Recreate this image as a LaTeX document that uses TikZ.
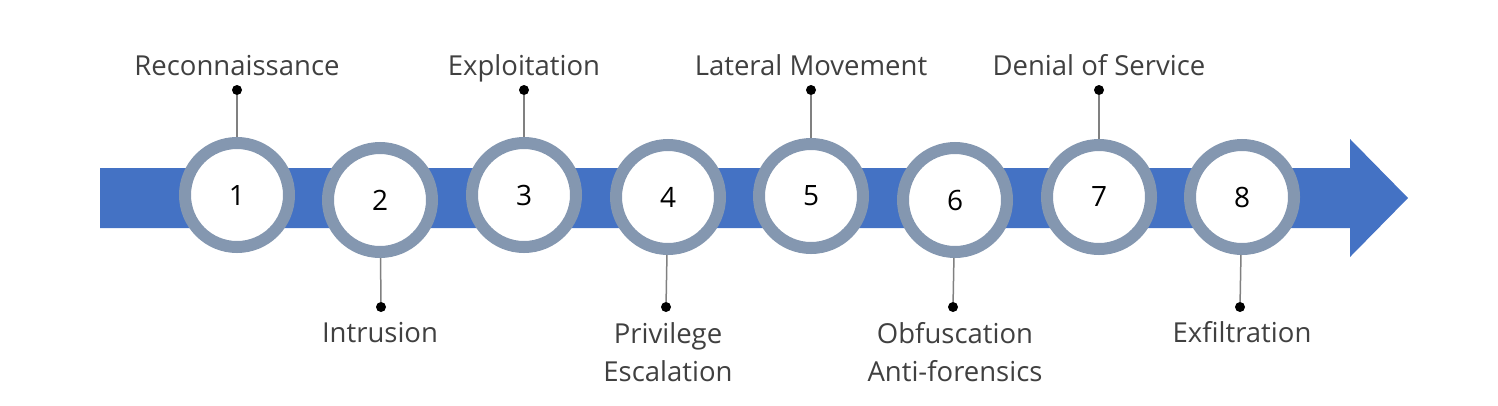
\documentclass[tikz,border=0pt]{standalone}
\usepackage{fontspec}
\setmainfont{Open Sans}
\usepackage{tikz}
\definecolor{barBlue}{RGB}{68, 114, 196}
\definecolor{ringGray}{RGB}{132, 151, 176}
\definecolor{stemGray}{RGB}{128, 128, 128}
\definecolor{textGray}{RGB}{64, 64, 64}
\tikzset{
  stage/.style={circle, draw=ringGray, line width=12pt, fill=white,
    minimum size=104pt, inner sep=0pt, font=\fontsize{28}{32}\selectfont},
  pin/.style={circle, fill=black, inner sep=0pt, minimum size=10pt},
  tag/.style={text=textGray, align=center, font=\fontsize{27.5}{38}\selectfont},
  oneline/.style={tag, text height=20pt, text depth=6pt}
}

\begin{document}
\begin{tikzpicture}[x=1pt, y=-1pt]
        \useasboundingbox (0,0) rectangle (1498,405);
        \fill[barBlue] (100,168) -- (1350,168) -- (1350,139) -- (1408,198)
          -- (1350,257) -- (1350,228) -- (100,228) -- cycle;
        % stages along the arrow
        \node[stage] (s1) at (237,195) {1};
        \node[stage] (s2) at (380,200) {2};
        \node[stage] (s3) at (524,195) {3};
        \node[stage] (s4) at (668,197) {4};
        \node[stage] (s5) at (811,196) {5};
        \node[stage] (s6) at (955,200) {6};
        \node[stage] (s7) at (1099,197) {7};
        \node[stage] (s8) at (1242,197) {8};
        % pins
        \node[pin] (p1) at (237,90) {};
        \node[pin] (p2) at (381,307) {};
        \node[pin] (p3) at (524,90) {};
        \node[pin] (p4) at (666,307) {};
        \node[pin] (p5) at (811,90) {};
        \node[pin] (p6) at (953,307) {};
        \node[pin] (p7) at (1099,90) {};
        \node[pin] (p8) at (1240,307) {};
        \draw[stemGray, line width=1.5pt] (p1) -- (s1);
        \draw[stemGray, line width=1.5pt] (p2) -- (s2);
        \draw[stemGray, line width=1.5pt] (p3) -- (s3);
        \draw[stemGray, line width=1.5pt] (p4) -- (s4);
        \draw[stemGray, line width=1.5pt] (p5) -- (s5);
        \draw[stemGray, line width=1.5pt] (p6) -- (s6);
        \draw[stemGray, line width=1.5pt] (p7) -- (s7);
        \draw[stemGray, line width=1.5pt] (p8) -- (s8);
        % labels
        \node[oneline] (t1) at (237,68) {Reconnaissance};
        \node[oneline] (t2) at (380,335) {Intrusion};
        \node[oneline] (t3) at (524,68) {Exploitation};
        \node[tag] (t4) at (668,352) {Privilege\\Escalation};
        \node[oneline] (t5) at (811,68) {Lateral Movement};
        \node[tag] (t6) at (955,352) {Obfuscation\\Anti-forensics};
        \node[oneline] (t7) at (1099,68) {Denial of Service};
        \node[oneline] (t8) at (1242,335) {Exfiltration};
      \end{tikzpicture}
\end{document}
